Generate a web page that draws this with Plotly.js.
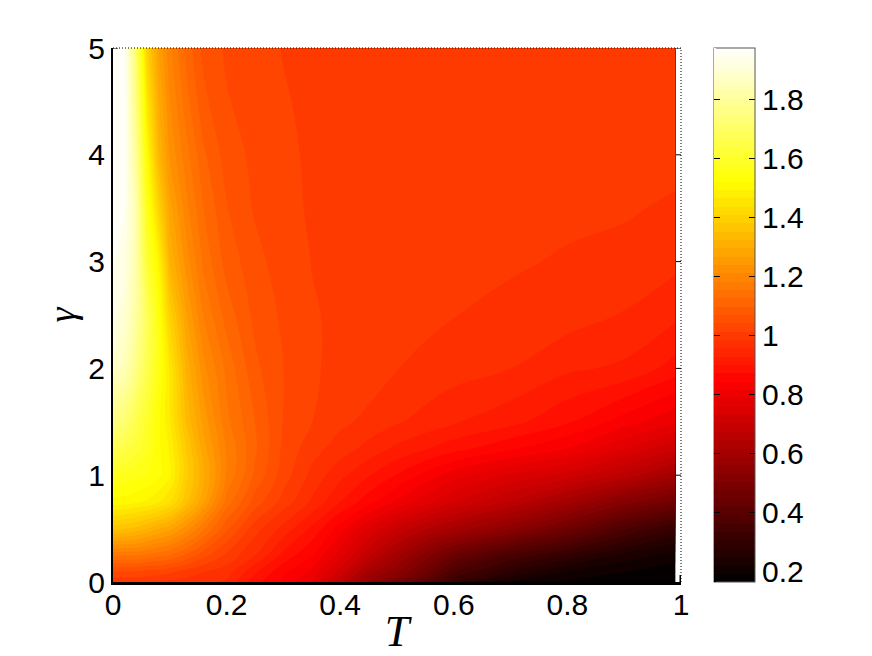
<!DOCTYPE html>
<html><head><meta charset="utf-8">
<script src="https://cdn.plot.ly/plotly-3.0.1.min.js"></script>
<style>html,body{margin:0;padding:0;background:#fff}</style></head>
<body><div id="chart" style="width:872px;height:656px"></div>
<script>
const T = [0,.02,.04,.06,.08,.1,.13,.16,.2,.25,.3,.35,.4,.45,.5,.55,.6,.7,.8,.9,.99];
const gamma = [0,.1,.25,.5,.75,1,1.25,1.5,2,2.5,3,3.5,4,4.5,5];
const row00 = [.992,.992,.992,.992,.982,.977,.972,.967,.952,.884,.834,.79,.68,.555,.485,.41,.315,.22,.19,.175,.165];
const row01 = [1.042,1.042,1.042,1.032,1.032,1.022,1.002,.987,.972,.907,.853,.81,.72,.61,.54,.46,.37,.28,.22,.195,.175];
const row02 = [1.158,1.158,1.158,1.148,1.136,1.125,1.092,1.052,1.007,.957,.891,.845,.77,.68,.60,.52,.45,.36,.30,.24,.21];
const row03 = [1.367,1.356,1.345,1.323,1.301,1.279,1.224,1.158,1.077,.997,.947,.895,.83,.76,.70,.65,.61,.54,.46,.37,.305];
const row04 = [1.51,1.51,1.50,1.49,1.47,1.44,1.356,1.268,1.142,1.057,1.002,.952,.90,.855,.81,.77,.73,.67,.60,.52,.465];
const row05 = [1.58,1.57,1.56,1.55,1.53,1.50,1.389,1.301,1.18,1.092,1.027,.977,.937,.903,.87,.835,.80,.755,.72,.665,.60];
const row06 = [1.67,1.65,1.62,1.58,1.53,1.49,1.378,1.279,1.18,1.103,1.035,.997,.972,.947,.922,.903,.884,.849,.815,.76,.705];
const row07 = [1.75,1.72,1.66,1.60,1.53,1.47,1.345,1.257,1.163,1.098,1.04,1.014,.992,.977,.96,.947,.932,.91,.876,.83,.79];
const row08 = [1.88,1.85,1.76,1.66,1.56,1.46,1.312,1.219,1.147,1.077,1.042,1.016,1.008,1.002,.986,.978,.97,.957,.934,.923,.888];
const row09 = [1.93,1.90,1.81,1.68,1.55,1.40,1.268,1.18,1.114,1.062,1.036,1.015,1.01,1.008,1.002,.992,.986,.975,.97,.955,.935];
const row10 = [1.95,1.93,1.83,1.62,1.50,1.323,1.224,1.147,1.087,1.052,1.026,1.013,1.008,1.007,1.006,1.002,.998,.99,.981,.975,.964];
const row11 = [1.97,1.95,1.84,1.57,1.41,1.279,1.191,1.125,1.072,1.038,1.022,1.01,1.006,1.004,1.002,1.002,1.002,1.0,.994,.989,.98];
const row12 = [1.97,1.96,1.80,1.52,1.334,1.235,1.164,1.103,1.057,1.034,1.021,1.008,1.004,1.002,1.002,1.002,1.002,1.002,1.002,1.0,.996];
const row13 = [1.97,1.97,1.76,1.46,1.301,1.213,1.136,1.077,1.044,1.029,1.016,1.007,1.002,1.002,1.002,1.002,1.002,1.002,1.002,1.002,1.002];
const row14 = [1.97,1.97,1.72,1.40,1.268,1.191,1.114,1.062,1.037,1.025,1.012,1.006,1.002,1.002,1.002,1.002,1.002,1.002,1.002,1.002,1.002];
const z = [row00,row01,row02,row03,row04,row05,row06,row07,row08,row09,row10,row11,row12,row13,row14];
const xTicks = [0,.2,.4,.6,.8,1];
const yTicks = [0,1,2,3,4,5];
const cbTicks = [.2,.4,.6,.8,1,1.2,1.4,1.6,1.8];
const zMin = .165, zMax = 1.975, levels = 64;
const hot = [[0,'#000000'],[.375,'#ff0000'],[.75,'#ffff00'],[1,'#ffffff']];
const dotted = {color:'#000',width:1,dash:'1px 2px'};
const shapes = [
 {type:'line',xref:'paper',yref:'paper',x0:0,x1:1,y0:1,y1:1,line:dotted},
 {type:'line',xref:'paper',yref:'paper',x0:1,x1:1,y0:0,y1:1,line:dotted},
 {type:'line',xref:'x',yref:'y',x0:1,x1:1,y0:0,y1:.065,line:{color:'#000',width:3}},
 {type:'line',xref:'x',yref:'y',x0:0,x1:.009,y0:5,y1:5,line:{color:'#000',width:1}}
];
yTicks.slice(1).forEach(v=>shapes.push({type:'line',xref:'x',yref:'y',x0:.991,x1:1,y0:v,y1:v,line:{color:'#000',width:1}}));
const barLeft=(714-113)/568;
const tickFont={family:'"Liberation Sans",Arial,sans-serif',size:30,color:'#000'};
const contourBase={type:'contour',x:T,y:gamma,z:z,zmin:zMin,zmax:zMax,colorscale:hot,autocontour:false,
  contours:{coloring:'fill',start:zMin,end:zMax,size:(zMax-zMin)/levels},line:{width:0,smoothing:1.2}};
Plotly.newPlot('chart',[
 Object.assign({},contourBase,{colorbar:{x:barLeft,xanchor:'left',xref:'paper',xpad:0,y:0,yanchor:'bottom',yref:'paper',ypad:0,
    thickness:41,thicknessmode:'pixels',len:534,lenmode:'pixels',
    outlinewidth:1,outlinecolor:'#555',tickmode:'array',tickvals:cbTicks,ticktext:cbTicks.map(String),
    ticks:'inside',ticklen:6,tickwidth:1,tickcolor:'#000',tickfont:tickFont}}),
 Object.assign({},contourBase,{colorbar:{x:barLeft,xanchor:'left',xref:'paper',xpad:0,y:0,yanchor:'bottom',yref:'paper',ypad:0,
    thickness:0,thicknessmode:'pixels',len:534,lenmode:'pixels',
    outlinewidth:0,tickmode:'array',tickvals:cbTicks,ticktext:cbTicks.map(()=>''),
    ticks:'outside',ticklen:6,tickwidth:1,tickcolor:'#000',showticklabels:false}})
],{
  width:872,height:656,paper_bgcolor:'#fff',plot_bgcolor:'#fff',showlegend:false,
  margin:{l:113,r:191,t:48,b:74,pad:0},
  xaxis:{range:[0,1],tickvals:xTicks,ticktext:xTicks.map(String),tickmode:'array',ticks:'',ticklabelstandoff:-6,showgrid:false,zeroline:false,showline:true,linecolor:'#000',linewidth:3,tickfont:tickFont,
    title:{text:'<i>T</i>',standoff:19,font:{family:'"Liberation Serif",serif',size:44,color:'#000'}}},
  yaxis:{range:[0,5],tickvals:yTicks,ticktext:yTicks.map(String),tickmode:'array',ticks:'',showgrid:false,zeroline:false,showline:true,linecolor:'#000',linewidth:2,tickfont:tickFont,
    title:{text:'<i>γ</i>',standoff:1,font:{family:'"Liberation Serif",serif',size:38,color:'#000'}}},
  shapes:shapes
},{displayModeBar:false,staticPlot:true});
</script></body></html>
